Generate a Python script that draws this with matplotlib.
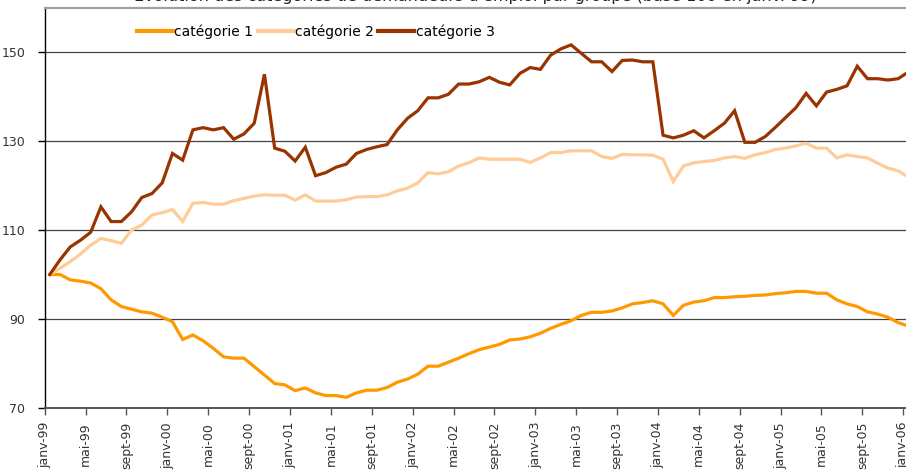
import numpy as np
import matplotlib
matplotlib.use("Agg")
import matplotlib.pyplot as plt

# monthly index values, janv-99 .. janv-06 (base 100 = janv-99)
cat1 = [100, 100.0, 98.8, 98.5, 98.1, 96.8, 94.3, 92.8, 92.2, 91.6,
        91.3, 90.4, 89.4, 85.4, 86.4, 85.1, 83.4, 81.5, 81.2, 81.2,
        79.3, 77.4, 75.5, 75.2, 73.9, 74.5, 73.4, 72.8, 72.8, 72.4,
        73.4, 74.0, 74.0, 74.6, 75.8, 76.5, 77.6, 79.4, 79.4, 80.3,
        81.2, 82.2, 83.1, 83.7, 84.3, 85.3, 85.5, 86.0, 86.8, 87.9,
        88.8, 89.6, 90.8, 91.5, 91.5, 91.8, 92.5, 93.4, 93.7, 94.1,
        93.4, 90.8, 93.1, 93.8, 94.1, 94.8, 94.8, 95.0, 95.1, 95.3,
        95.4, 95.7, 95.9, 96.2, 96.2, 95.8, 95.8, 94.3, 93.4, 92.8,
        91.6, 91.1, 90.4, 89.2, 88.4]
cat2 = [100, 101.4, 102.9, 104.6, 106.6, 108.1, 107.6, 107.0, 110.0, 111.1,
        113.4, 113.9, 114.6, 111.9, 116.0, 116.2, 115.8, 115.8, 116.6, 117.1,
        117.6, 117.9, 117.8, 117.8, 116.7, 117.9, 116.5, 116.5, 116.5, 116.8,
        117.4, 117.5, 117.5, 117.9, 118.8, 119.4, 120.6, 122.9, 122.6, 123.1,
        124.4, 125.1, 126.2, 125.9, 125.9, 125.9, 125.9, 125.2, 126.2, 127.4,
        127.4, 127.8, 127.8, 127.8, 126.5, 126.1, 127.0, 126.9, 126.9, 126.8,
        125.9, 120.9, 124.4, 125.1, 125.4, 125.6, 126.2, 126.5, 126.1, 126.9,
        127.4, 128.1, 128.4, 128.9, 129.5, 128.4, 128.4, 126.2, 126.9, 126.5,
        126.2, 125.0, 123.9, 123.3, 121.9]
cat3 = [100, 103.3, 106.2, 107.7, 109.5, 115.2, 111.9, 111.9, 114.1, 117.3,
        118.2, 120.6, 127.2, 125.7, 132.5, 133.0, 132.5, 133.0, 130.4, 131.6,
        134.0, 145.0, 128.4, 127.7, 125.5, 128.6, 122.2, 122.9, 124.1, 124.8,
        127.2, 128.1, 128.7, 129.2, 132.5, 135.1, 136.8, 139.7, 139.7, 140.5,
        142.8, 142.8, 143.3, 144.3, 143.2, 142.6, 145.2, 146.5, 146.1, 149.3,
        150.7, 151.6, 149.7, 147.8, 147.8, 145.6, 148.1, 148.2, 147.8, 147.8,
        131.3, 130.7, 131.3, 132.3, 130.7, 132.3, 134.0, 136.8, 129.7, 129.7,
        131.0, 133.1, 135.3, 137.5, 140.7, 137.9, 141.0, 141.6, 142.4, 146.8,
        144.0, 144.0, 143.7, 144.0, 145.5]

tick_labels = ['janv-99', 'mai-99', 'sept-99', 'janv-00', 'mai-00', 'sept-00',
               'janv-01', 'mai-01', 'sept-01', 'janv-02', 'mai-02', 'sept-02',
               'janv-03', 'mai-03', 'sept-03', 'janv-04', 'mai-04', 'sept-04',
               'janv-05', 'mai-05', 'sept-05', 'janv-06']
y_ticks = [70, 90, 110, 130, 150]

title = "Évolution des catégories de demandeurs d'emploi par groupe (base 100 en janv. 99)"

W, H = 906, 474
fig = plt.figure(figsize=(W / 100, H / 100), dpi=100)
# axes runs past the right edge, like the cropped original
ax = fig.add_axes([44.7 / W, 1 - 408 / H, 879 / W, 400.5 / H])

x = np.arange(len(cat1))
ax.plot(x, cat1, color='#FF9900', lw=2.3, label='catégorie 1', solid_joinstyle='miter')
ax.plot(x, cat2, color='#FFCC99', lw=2.3, label='catégorie 2', solid_joinstyle='miter')
ax.plot(x, cat3, color='#993300', lw=2.3, label='catégorie 3', solid_joinstyle='miter')

ax.set_xlim(-0.5, 85.5)
ax.set_ylim(70, 160)
ax.set_yticks(y_ticks)
ax.set_xticks(np.arange(len(tick_labels)) * 4 - 0.5)
ax.set_xticklabels(tick_labels, rotation=90, fontsize=9, color='#333333')
ax.tick_params(axis='y', labelsize=9, labelcolor='#333333', length=5, width=1, pad=9)
ax.tick_params(axis='x', length=5, width=1, color='#555555', pad=5)

for v in y_ticks[1:]:
    ax.axhline(v, color='#444444', lw=0.9, zorder=0)

ax.spines['left'].set_color('black')
ax.spines['left'].set_linewidth(1.0)
ax.spines['bottom'].set_color('#555555')
ax.spines['bottom'].set_linewidth(1.4)
ax.spines['top'].set_color('#A0A0A0')
ax.spines['top'].set_linewidth(1.6)
ax.spines['right'].set_visible(False)

leg = fig.legend(loc='center left', bbox_to_anchor=(137 / W, 1 - 32 / H), ncol=3,
                 frameon=False, fontsize=10, handlelength=2.6, handletextpad=0.1,
                 columnspacing=0.3, borderpad=0, borderaxespad=0)
for line in leg.get_lines():
    line.set_linewidth(3)

# title sits mostly above the cropped top edge, as in the original
fig.text(0.525, 1 - 0.5 / H, title, ha='center', va='baseline', fontsize=11.5, color='#222222')

fig.savefig('out.png', dpi=100)
